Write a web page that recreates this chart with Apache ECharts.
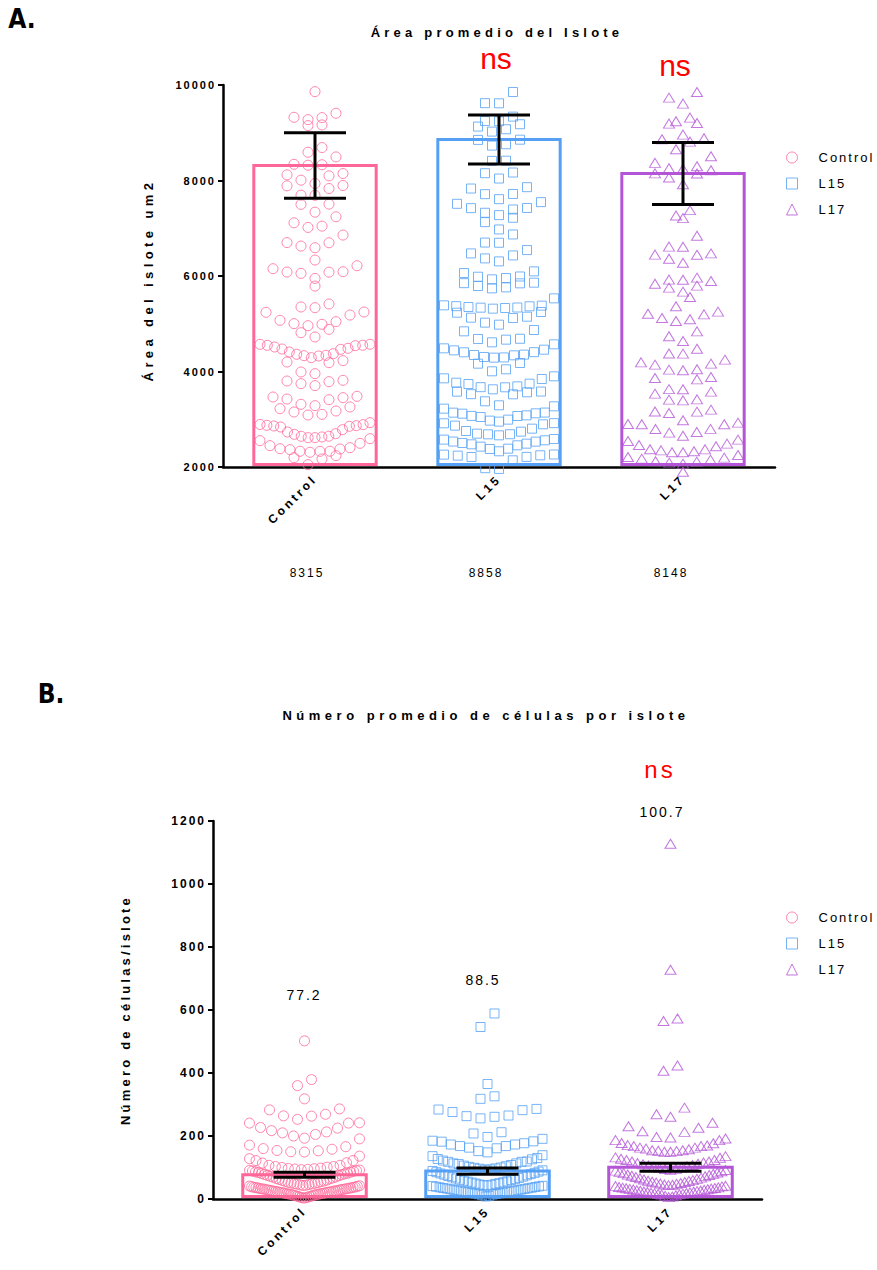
<!DOCTYPE html>
<html>
<head>
<meta charset="utf-8">
<script src="https://cdn.jsdelivr.net/npm/echarts@6/dist/echarts.min.js"></script>
<style>
html, body { margin: 0; padding: 0; background: #fff; }
#main { width: 877px; height: 1270px; }
</style>
</head>
<body>
<div id="main"></div>
<script>
const groups = ["Control", "L15", "L17"];
const colors = ["#FF6699", "#55A0F5", "#B455D7"];
const symbols = ["circle", "rect", "triangle"];

// A. area per islet (um2)
const areaMean = [8315, 8858, 8148];
const areaErr = [685, 515, 650];
const areaControl = [9861, 9408, 9317, 9164, 9150, 9275, 9324, 8690, 8494, 8592, 8320, 8340, 8330,
  8118, 8146, 8097, 8007, 7937, 7888, 7832, 7895, 7693, 7690, 7505, 7500, 7337, 7240, 7114, 7045,
  7017, 6857, 6696, 6592, 6627, 6700, 6334, 6215, 6153, 6083, 6055, 6080, 6090, 5950, 5790,
  5351, 5183, 5246, 5239, 5337, 5414, 5044, 4988, 4883, 4960, 5002, 5072, 4813, 4723, 4569, 4548,
  4541, 4513, 4550, 4570, 4485, 4464, 4471, 4408, 4374, 4339, 4325, 4227, 4185, 4199, 4290, 4332,
  4360, 3990, 3955, 3815, 3787, 3745, 3801, 3704, 3480, 3452, 3313, 3257, 3410, 3424, 3466, 3173,
  3285, 3222, 3103, 3089, 3152, 2887, 2873, 2852, 2838, 2733, 2684, 2698, 2782, 2859, 2866, 2890,
  2929, 2643, 2615, 2594, 2496, 2405, 2377, 2363, 2384, 2447, 2552, 2615, 2629, 2645, 2329, 2308,
  2196, 2049, 2168, 2238, 2330, 2328];
const areaL15 = [9854, 9617, 9620, 9240, 9178, 9073, 9129, 9245, 9338, 9024, 8850, 8759, 8731, 8855,
  8411, 8415, 8153, 8167, 8041, 7860, 7832, 7714, 7609, 7718, 7547, 7512, 7421, 7324, 7219, 7128,
  7275, 7393, 7425, 6975, 6870, 6696, 6700, 6543, 6431, 6473, 6306, 6369, 6062, 6097, 5985, 5957,
  5860, 5846, 5790, 5741, 5762, 5850, 5930, 5990,
  5532, 5386, 5330, 5365, 5246, 5351, 5148, 5337, 5120, 5340, 5023, 5368, 5127, 5379, 5232, 5316,
  4981, 4869, 4841, 4681, 4667, 4685, 4611, 4485, 4443, 4402, 4346, 4339, 4353, 4405, 4457, 4569,
  4304, 4290, 4164, 4178, 4295, 4004, 4046, 3857, 3766, 3738, 3689, 3745, 3843, 3899, 3669, 3627,
  3578, 3522, 3525, 3564, 3580, 3672, 3376, 3292, 3222, 3138, 3117, 3068, 3047, 2992, 3070, 3082,
  3124, 3140, 3271, 2971, 2915, 2894, 2803, 2740, 2684, 2663, 2686, 2698, 2754, 2866, 2918, 2950,
  2573, 2531, 2489, 2475, 2426, 2377, 2329, 2384, 2454, 2503, 2533, 2559, 2587, 2259, 2245, 2210,
  2140, 1960, 1975, 2212, 2238, 2262];
const areaL17 = [9854, 9610, 9735, 9317, 9205, 9191, 9240, 8961, 8864, 8815, 8885, 8655, 8508, 8299,
  8244, 8258, 8369, 8216, 8146, 8150, 8062, 7923, 7379, 7212, 7268, 6843, 6613, 6473, 6445, 6615,
  6362, 6448, 6278,
  5965, 5923, 5895, 5925, 5839, 5756, 5798, 5672, 5560, 5365, 5211, 5197, 5253, 5093, 5058, 5121,
  4841, 4639, 4737, 4478, 4374, 4376, 4248, 4164, 4192, 4039, 4025, 4046, 4143, 3864, 3836, 3885,
  3627, 3578, 3410, 3396, 3417, 3536, 3630, 3159, 3131, 3162, 3201, 2978, 2929, 2894, 2796, 2733,
  2656, 2719, 2798, 2896, 2901, 2545, 2461, 2370, 2329, 2308, 2310, 2349, 2372, 2433, 2489, 2573,
  2210, 2175, 2119, 2091, 1900, 2070, 2112, 2154, 2196, 2252];

// B. cells per islet
const cellMean = [77.2, 88.5, 100.7];
const cellErr = [8, 10, 13];
const cellControl = [502, 379, 360, 318, 286, 283, 269, 263, 253, 264, 241, 242, 227, 241, 217, 210,
  200, 205, 213, 225, 193, 191, 171, 166, 160, 154, 150, 149, 153, 158, 136, 128, 122, 115, 107, 103,
  100, 98, 101, 103, 107, 114, 122,
  97, 96, 95, 94, 93, 92, 91, 90, 89, 88, 86, 85, 84, 82, 81, 80, 78, 77, 75, 74, 72, 70, 69, 67,
  65, 64, 62, 60, 59, 57, 56, 55, 53, 52, 51, 50, 49, 48, 47, 46, 45, 44, 43, 42, 41, 40, 39, 38,
  37, 37, 36, 35, 35, 34, 33, 33, 32, 31, 31, 30, 29, 29, 28, 27, 27, 26, 25, 25, 24, 23, 23, 22,
  21, 21, 20, 19, 19, 18, 17, 17, 16, 15, 15, 14, 13, 12, 11, 10, 9, 8, 7, 6, 5, 4, 3];
const cellL15 = [589, 546, 365, 318, 326, 286, 282, 265, 261, 256, 263, 276, 284, 208, 212, 197, 191,
  185, 182, 173, 168, 163, 161, 168, 173, 177, 183, 148, 152, 136, 127, 122, 118, 113, 111, 113, 118,
  119, 126, 130, 139,
  108, 106, 104, 102, 100, 99, 97, 96, 94, 93, 91, 89, 87, 85, 83, 81, 79, 77, 75, 73, 71, 69, 67,
  65, 63, 61, 60, 58, 56, 55, 53, 52, 50, 49, 48, 46, 45, 44, 43, 42, 41, 40, 39, 38, 37, 36, 35,
  34, 33, 32, 31, 30, 29, 28, 27, 26, 25, 24, 23, 22, 21, 20, 19, 18, 17, 16, 15, 14, 12, 10, 8];
const cellL17 = [1128, 728, 573, 565, 407, 424, 290, 269, 261, 231, 242, 226, 215, 213, 197, 195, 192,
  187, 187, 178, 177, 171, 170, 168, 168, 163, 163, 158, 160, 155, 155, 152, 153, 150, 150, 136, 132,
  131, 128, 124, 124, 119, 119,
  116, 114, 112, 110, 108, 106, 104, 102, 100, 98, 96, 95, 93, 92, 90, 88, 86, 84, 82, 80, 78, 76,
  74, 72, 70, 68, 66, 64, 62, 60, 58, 57, 55, 54, 52, 51, 49, 48, 46, 45, 44, 42, 41, 40, 38, 37,
  36, 35, 34, 33, 32, 31, 30, 29, 28, 27, 26, 25, 24, 23, 22, 21, 20, 19, 18, 17, 16, 15, 14, 12,
  10, 8, 6];

const FONT = '"Liberation Sans", Arial, sans-serif';

// Prism-like scatter: bin by row, spread each row centre-out
function swarm(values, cat, yMin, pxPerVal, pxPerCat) {
  const bins = {};
  values.forEach(v => {
    const b = Math.floor(((v - yMin) * pxPerVal + 2.5) / 15.8);
    (bins[b] = bins[b] || []).push(v);
  });
  const out = [];
  Object.keys(bins).forEach(k => {
    const row = bins[k].slice().sort((a, b) => a - b);
    const n = row.length;
    const step = n > 1 ? Math.min(14, 110 / (n - 1)) : 0;
    const slots = [];
    for (let i = 0; i < n; i++) slots.push((i - (n - 1) / 2) * step);
    slots.sort((a, b) => (Math.abs(a) - Math.abs(b)) || (a - b));
    row.forEach((v, i) => out.push([cat + 0.5 + slots[i] / pxPerCat, v]));
  });
  return out;
}

const panels = [
  { grid: { left: 223, top: 85, width: 552, height: 382 }, min: 2000, max: 10000, interval: 2000,
    mean: areaMean, err: areaErr, pts: [areaControl, areaL15, areaL17], barFrac: 0.665, tick: 11 },
  { grid: { left: 213, top: 821, width: 549, height: 378 }, min: 0, max: 1200, interval: 200,
    mean: cellMean, err: cellErr, pts: [cellControl, cellL15, cellL17], barFrac: 0.675, tick: 12 }
];

const xAxis = [], yAxis = [], grid = [], series = [];
panels.forEach((p, g) => {
  grid.push(p.grid);
  xAxis.push({
    gridIndex: g, type: 'category', data: groups,
    axisLine: { lineStyle: { color: '#000', width: 2.5 } },
    axisTick: { alignWithLabel: true, length: 5, lineStyle: { color: '#000', width: 2 } },
    axisLabel: { rotate: 45, fontWeight: 'bold', fontSize: 12, color: '#000', margin: 10, fontFamily: FONT }
  });
  xAxis.push({ gridIndex: g, type: 'value', min: 0, max: 3, show: false });
  yAxis.push({
    gridIndex: g, type: 'value', min: p.min, max: p.max, interval: p.interval,
    axisLine: { show: true, lineStyle: { color: '#000', width: 2.5 } },
    axisTick: { show: true, length: 5, lineStyle: { color: '#000', width: 2 } },
    splitLine: { show: false },
    axisLabel: { fontWeight: 'bold', fontSize: p.tick, color: '#000', margin: 7, fontFamily: FONT,
      formatter: v => String(v) }
  });
  const xCat = g * 2, xVal = g * 2 + 1;
  const pxPerVal = p.grid.height / (p.max - p.min);
  const pxPerCat = p.grid.width / 3;

  series.push({
    type: 'custom', xAxisIndex: xCat, yAxisIndex: g, z: 1, silent: true,
    data: p.mean.map((m, i) => [i, m]),
    renderItem: (params, api) => {
      const i = api.value(0);
      const top = api.coord([i, api.value(1)]);
      const base = api.coord([i, p.min]);
      const w = api.size([1, 0])[0] * p.barFrac;
      return { type: 'rect', shape: { x: top[0] - w / 2, y: top[1], width: w, height: base[1] - top[1] - 2.5 },
        style: { fill: 'none', stroke: colors[i], lineWidth: 3 } };
    }
  });
  groups.forEach((name, i) => {
    series.push({
      type: 'scatter', name: name, xAxisIndex: xVal, yAxisIndex: g, z: 2, clip: false, silent: true,
      symbol: symbols[i], symbolSize: i === 2 ? [11, 9] : (i === 1 ? 9 : 10),
      itemStyle: { color: 'rgba(0,0,0,0)', borderColor: colors[i], borderWidth: 1 },
      data: swarm(p.pts[i], i, p.min, pxPerVal, pxPerCat)
    });
  });
  series.push({
    type: 'custom', xAxisIndex: xCat, yAxisIndex: g, z: 5, silent: true,
    data: p.mean.map((m, i) => [i, m, p.err[i]]),
    renderItem: (params, api) => {
      const i = api.value(0);
      const t = api.coord([i, api.value(1) + api.value(2)]);
      const b = api.coord([i, api.value(1) - api.value(2)]);
      const w = 31, st = { stroke: '#000', lineWidth: 3 };
      return { type: 'group', children: [
        { type: 'line', shape: { x1: t[0], y1: t[1], x2: b[0], y2: b[1] }, style: st },
        { type: 'line', shape: { x1: t[0] - w, y1: t[1], x2: t[0] + w, y2: t[1] }, style: st },
        { type: 'line', shape: { x1: b[0] - w, y1: b[1], x2: b[0] + w, y2: b[1] }, style: st }
      ] };
    }
  });
});

const legendData = groups.map((g, i) => ({
  name: g, icon: symbols[i],
  itemStyle: { color: 'rgba(0,0,0,0)', borderColor: colors[i], borderWidth: 1 }
}));
const legendBase = {
  orient: 'vertical', itemGap: 13, itemWidth: 11, itemHeight: 11, selectedMode: false,
  textStyle: { fontSize: 13, color: '#000', fontFamily: FONT, padding: [0, 0, 0, 16] },
  data: legendData
};

function txt(text, x, y, font, fill, rot) {
  return { type: 'text', x: x, y: y, rotation: rot || 0, silent: true,
    style: { text: text, font: font, fill: fill || '#000', align: 'center', verticalAlign: 'middle' } };
}

const option = {
  animation: false,
  grid: grid, xAxis: xAxis, yAxis: yAxis, series: series,
  legend: [
    Object.assign({ left: 781, top: 146 }, legendBase),
    Object.assign({ left: 781, top: 906 }, legendBase)
  ],
  graphic: [
    txt('A.', 22, 19, 'bold 26px "DejaVu Sans Condensed", sans-serif'),
    txt('B.', 51, 694, 'bold 26px "DejaVu Sans Condensed", sans-serif'),
    txt('Área promedio del Islote', 497, 32, 'bold 13px ' + FONT),
    txt('Número promedio de células por islote', 486, 715, 'bold 13px ' + FONT),
    txt('Área del islote um2', 148, 280, 'bold 13px ' + FONT, '#000', Math.PI / 2),
    txt('Número de células/islote', 125, 1010, 'bold 13px ' + FONT, '#000', Math.PI / 2),
    txt('ns', 496, 58, '30px ' + FONT, '#FF0000'),
    txt('ns', 675, 65, '30px ' + FONT, '#FF0000'),
    txt('ns', 660, 769, '24px ' + FONT, '#FF0000'),
    txt(String(areaMean[0]), 307, 573, '12px ' + FONT),
    txt(String(areaMean[1]), 486, 573, '12px ' + FONT),
    txt(String(areaMean[2]), 671, 573, '12px ' + FONT),
    txt(String(cellMean[0]), 304, 995, '14px ' + FONT),
    txt(String(cellMean[1]), 483, 980, '14px ' + FONT),
    txt(String(cellMean[2]), 662, 812, '14px ' + FONT)
  ]
};

const chart = echarts.init(document.getElementById('main'), null, { renderer: 'svg', width: 877, height: 1270 });

function spaceText() {
  document.querySelectorAll('#main text').forEach(t => {
    const s = t.textContent;
    const st = t.getAttribute('style') || '';
    let ls = 2;
    if (s === 'A.' || s === 'B.') ls = 0;
    else if (s === 'ns') ls = st.indexOf('24px') >= 0 ? 3 : 0;
    else if (s.indexOf('promedio') >= 0) ls = s.length > 30 ? 4.5 : 4.2;
    else if (s.indexOf('islote') >= 0) ls = s.length > 20 ? 3.2 : 4.4;
    else if (groups.indexOf(s) >= 0 && st.indexOf('bold') >= 0) ls = 3;
    t.style.letterSpacing = ls + 'px';
  });
}
chart.on('finished', spaceText);
chart.setOption(option);
setTimeout(spaceText, 50);
</script>
</body>
</html>
